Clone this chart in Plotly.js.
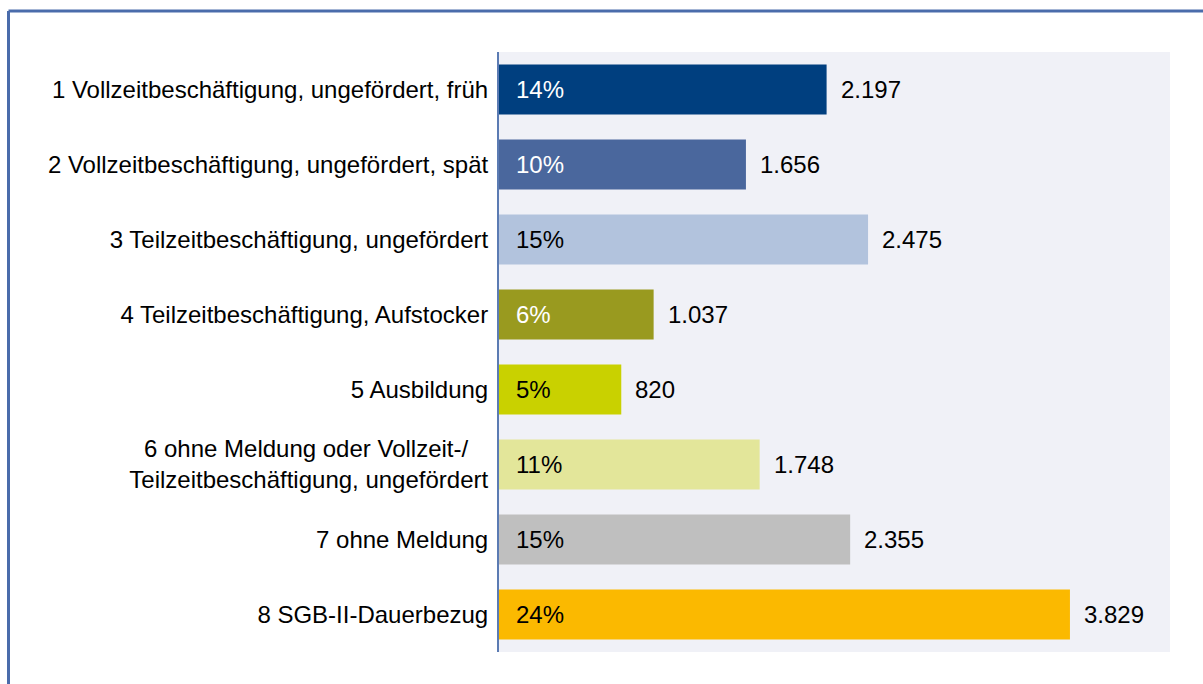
<!DOCTYPE html>
<html>
<head>
<meta charset="utf-8">
<script src="https://cdn.plot.ly/plotly-3.0.1.min.js"></script>
<style>
html,body{margin:0;padding:0;background:#ffffff;}
#chart{width:1203px;height:684px;}
</style>
</head>
<body>
<div id="chart"></div>
<script>
const categories = [
  "1 Vollzeitbeschäftigung, ungefördert, früh",
  "2 Vollzeitbeschäftigung, ungefördert, spät",
  "3 Teilzeitbeschäftigung, ungefördert",
  "4 Teilzeitbeschäftigung, Aufstocker",
  "5 Ausbildung",
  "6 ohne Meldung oder Vollzeit-/\u00a0\u00a0\u00a0<br>Teilzeitbeschäftigung, ungefördert",
  "7 ohne Meldung",
  "8 SGB-II-Dauerbezug"
];
const values = [2197, 1656, 2475, 1037, 820, 1748, 2355, 3829];
const valueLabels = ["2.197", "1.656", "2.475", "1.037", "820", "1.748", "2.355", "3.829"];
const shares = ["14%", "10%", "15%", "6%", "5%", "11%", "15%", "24%"];
const barColors = ["#003f7f", "#4a679d", "#b2c3dd", "#999a1f", "#c9d100", "#e3e69a", "#bfbfbf", "#fbb900"];
const shareTextColors = ["#ffffff", "#ffffff", "#000000", "#ffffff", "#000000", "#000000", "#000000", "#000000"];

const font = "Liberation Sans, Arial, sans-serif";
const fs = 24;
const ids = categories.map((c, i) => "c" + i);

const trace = {
  type: "bar",
  orientation: "h",
  y: ids,
  x: values,
  marker: {color: barColors, line: {width: 0}},
  hoverinfo: "skip"
};

const annotations = [];
ids.forEach((id, i) => {
  annotations.push({
    x: 0, y: id, xref: "x", yref: "y",
    text: shares[i], showarrow: false,
    xanchor: "left", yanchor: "middle", xshift: 15,
    font: {family: font, size: fs, color: shareTextColors[i]}
  });
  annotations.push({
    x: values[i], y: id, xref: "x", yref: "y",
    text: valueLabels[i], showarrow: false,
    xanchor: "left", yanchor: "middle", xshift: 12,
    font: {family: font, size: fs, color: "#000000"}
  });
});

const W = 671, H = 600, L = 499, T = 52;
const px = v => (v - L) / W;
const py = v => 1 - (v - T) / H;

const layout = {
  width: 1203, height: 684,
  margin: {l: 499, r: 33, t: 52, b: 32, pad: 0},
  paper_bgcolor: "#ffffff",
  plot_bgcolor: "#f0f1f7",
  bargap: 0.333,
  showlegend: false,
  font: {family: font, size: fs, color: "#000000"},
  xaxis: {
    range: [0, 4500], visible: false, fixedrange: true
  },
  yaxis: {
    type: "category",
    autorange: "reversed",
    tickvals: ids,
    ticktext: categories,
    ticks: "",
    showgrid: false, zeroline: false,
    showline: true, linecolor: "#5b7bb3", linewidth: 2,
    ticklabelstandoff: 4,
    tickfont: {family: font, size: fs, color: "#000000"},
    fixedrange: true
  },
  annotations: annotations,
  shapes: [
    {type: "line", xref: "paper", yref: "paper", x0: px(8.5), x1: px(1210), y0: py(11), y1: py(11),
     line: {color: "#4a6cab", width: 3}, layer: "above"},
    {type: "line", xref: "paper", yref: "paper", x0: px(8.5), x1: px(8.5), y0: py(11), y1: py(700),
     line: {color: "#4a6cab", width: 3}, layer: "above"}
  ]
};

Plotly.newPlot("chart", [trace], layout, {displayModeBar: false, staticPlot: true});
</script>
</body>
</html>
